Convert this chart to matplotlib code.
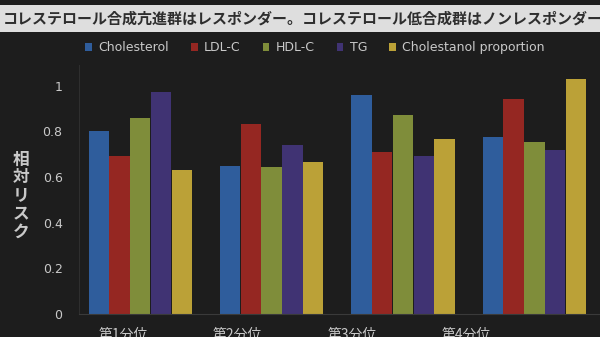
import numpy as np
import matplotlib
matplotlib.use("Agg")
import matplotlib.pyplot as plt
from matplotlib.patches import Rectangle

plt.rcParams['font.family'] = ['DejaVu Sans', 'Noto Sans CJK JP']

quantiles = ['第1分位', '第2分位', '第3分位', '第4分位']
series = ['Cholesterol', 'LDL-C', 'HDL-C', 'TG', 'Cholestanol proportion']
cholesterol = [0.80, 0.65, 0.96, 0.775]
ldl_c = [0.69, 0.83, 0.71, 0.94]
hdl_c = [0.86, 0.645, 0.87, 0.755]
tg = [0.97, 0.74, 0.69, 0.72]
cholestanol = [0.63, 0.665, 0.765, 1.03]
colors = ['#2f5d9c', '#952722', '#7f8d3a', '#403373', '#bba137']

title = 'コレステロール合成亢進群はレスポンダー。コレステロール低合成群はノンレスポンダー。'
bg = '#1d1d1d'
fg = '#c9c9c9'

fig = plt.figure(figsize=(6, 3.37), dpi=100, facecolor=bg)

# light title band across the top
fig.patches.append(Rectangle((0, 0.905), 1, 0.08, transform=fig.transFigure,
                             facecolor='#dedede', edgecolor='none', zorder=0))
fig.text(0.005, 0.944, title, fontsize=10.8, fontweight='bold', color='#2e2e2e',
         va='center', ha='left', family=['Noto Sans CJK JP'])

ax = fig.add_axes([0.132, 0.068, 0.868, 0.739])
ax.set_facecolor(bg)

x = np.arange(len(quantiles))
w = 0.155
values = [cholesterol, ldl_c, hdl_c, tg, cholestanol]
for k, (name, vals) in enumerate(zip(series, values)):
    ax.bar(x + (k - 2) * 0.158, vals, width=w, color=colors[k], label=name, zorder=2)

ax.set_xlim(-0.465, 3.5)
ax.set_ylim(0, 1.09)
ax.set_yticks([0, 0.2, 0.4, 0.6, 0.8, 1.0])
ax.set_yticklabels(['0', '0.2', '0.4', '0.6', '0.8', '1'])
ax.tick_params(axis='y', length=0, pad=12, labelsize=9, colors=fg)

# category labels sit a little left of each group, running off the bottom edge
label_shift = [0.13, 0.26, 0.385, 0.515]
ax.set_xticks(x - np.array(label_shift))
ax.set_xticklabels(quantiles, family=['Noto Sans CJK JP'])
ax.tick_params(axis='x', length=0, pad=10, labelsize=10, colors=fg)

for s in ['top', 'right']:
    ax.spines[s].set_visible(False)
ax.spines['left'].set_color('#2e2e2e')
ax.spines['bottom'].set_color('#3a3a3a')

fig.text(0.035, 0.42, '相\n対\nリ\nス\nク', fontsize=12, fontweight='bold', color=fg,
         ha='center', va='center', linespacing=1.0, family=['Noto Sans CJK JP'])

leg = fig.legend(loc='center', bbox_to_anchor=(0.525, 0.858), ncol=5, frameon=False,
                 fontsize=9, handlelength=0.55, handleheight=0.55, handletextpad=0.5,
                 columnspacing=1.75, labelcolor=fg)

fig.savefig('out.png', dpi=100, facecolor=bg)
